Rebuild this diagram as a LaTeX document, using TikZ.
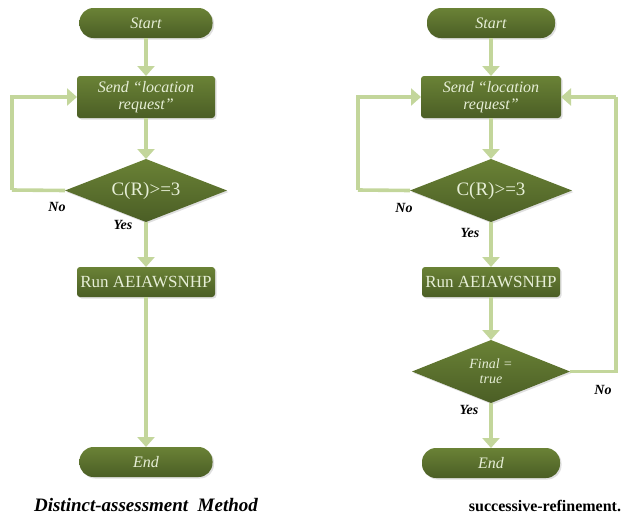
\documentclass[tikz,border=0pt]{standalone}
\usepackage{fontspec}
\setmainfont{Liberation Serif}
\usepackage{tikz}
\usetikzlibrary{arrows.meta, positioning, shapes.geometric, shadows}
\definecolor{oliveDark}{HTML}{4B5E25}
\definecolor{oliveTop}{HTML}{6A8236}
\definecolor{flowGreen}{HTML}{C3D69B}
\definecolor{inText}{HTML}{E6EED6}

\begin{document}
\begin{tikzpicture}[x=1pt, y=-1pt,
    shape base/.style = {top color=oliveTop, bottom color=oliveDark, draw=none, outer sep=0pt, inner sep=1pt, text=inText,
        drop shadow={shadow xshift=1.5pt, shadow yshift=-1.5pt, opacity=0.25}},
    term/.style = {shape base, rectangle, rounded corners=14pt, minimum width=133pt, minimum height=30pt, font=\fontsize{16}{18}\selectfont\itshape},
    proc/.style = {shape base, rectangle, rounded corners=3pt, minimum width=138pt, align=center},
    test/.style = {shape base, diamond, aspect=2.6, minimum width=162pt, minimum height=63pt, align=center},
    flow/.style = {draw=flowGreen, line width=3.6pt, -{Triangle[width=17pt,length=10pt]}},
    loop/.style = {draw=flowGreen, line width=3.6pt},
    answer/.style = {font=\fontsize{14}{16}\selectfont\bfseries\itshape},
    caption/.style = {anchor=base, inner sep=0pt}]
    \useasboundingbox (0,0) rectangle (622,515);

    % distinct-assessment
    \node[term] (startL) at (146,23) {Start};
    \node[proc, minimum height=42pt, font=\fontsize{16}{17}\selectfont\itshape] (sendL) [below=38pt of startL] {Send ``location\\request''};
    \node[test, font=\fontsize{19}{21}\selectfont] (condL) [below=41pt of sendL] {C(R)>=3};
    \node[proc, minimum height=30pt, font=\fontsize{17}{19}\selectfont] (runL) [below=45pt of condL] {Run AEIAWSNHP};
    \node[term] (endL) [below=150pt of runL] {End};
    \coordinate (backL) at (12,190);

    \draw[flow] (startL) -- (sendL);
    \draw[flow] (sendL) -- (condL);
    \draw[flow] (condL) -- (runL);
    \draw[flow] (runL) -- (endL);
    \draw[loop] (condL.west) -- (backL);
    \draw[flow] (backL) |- (sendL.west);
    \node[answer] (noL) at (57,207) {No};
    \node[answer] (yesL) at (123,225) {Yes};

    % successive-refinement
    \node[term, minimum width=128pt] (startR) at (491,23) {Start};
    \node[proc, minimum width=140pt, minimum height=42pt, font=\fontsize{16}{17}\selectfont\itshape] (sendR) [below=38pt of startR] {Send ``location\\request''};
    \node[test, font=\fontsize{19}{21}\selectfont] (condR) [below=41pt of sendR] {C(R)>=3};
    \node[proc, minimum height=30pt, font=\fontsize{17}{19}\selectfont] (runR) [below=45pt of condR] {Run AEIAWSNHP};
    \node[test, minimum width=158pt, font=\fontsize{14}{15}\selectfont\itshape] (finalR) [below=43pt of runR] {Final =\\true};
    \node[term, minimum width=138pt] (endR) [below=45pt of finalR] {End};
    \coordinate (backRl) at (358,190);
    \coordinate (backRr) at (616,97);

    \draw[flow] (startR) -- (sendR);
    \draw[flow] (sendR) -- (condR);
    \draw[flow] (condR) -- (runR);
    \draw[flow] (runR) -- (finalR);
    \draw[flow] (finalR) -- (endR);
    \draw[loop] (condR.west) -- (backRl);
    \draw[flow] (backRl) |- (sendR.west);
    \draw[loop] (finalR.east) -| (backRr);
    \draw[flow] (backRr) -- (sendR.east);
    \node[answer] (noRl) at (404,208) {No};
    \node[answer] (yesRl) at (470,233) {Yes};
    \node[answer] (noRr) at (603,390) {No};
    \node[answer] (yesRr) at (469,410) {Yes};

    \node[caption, font=\fontsize{19}{21}\selectfont\bfseries\itshape] (capL) at (146,511) {Distinct-assessment\ \ Method};
    \node[caption, font=\fontsize{16}{18}\selectfont\bfseries] (capR) at (545,511) {successive-refinement.};
\end{tikzpicture}
\end{document}
